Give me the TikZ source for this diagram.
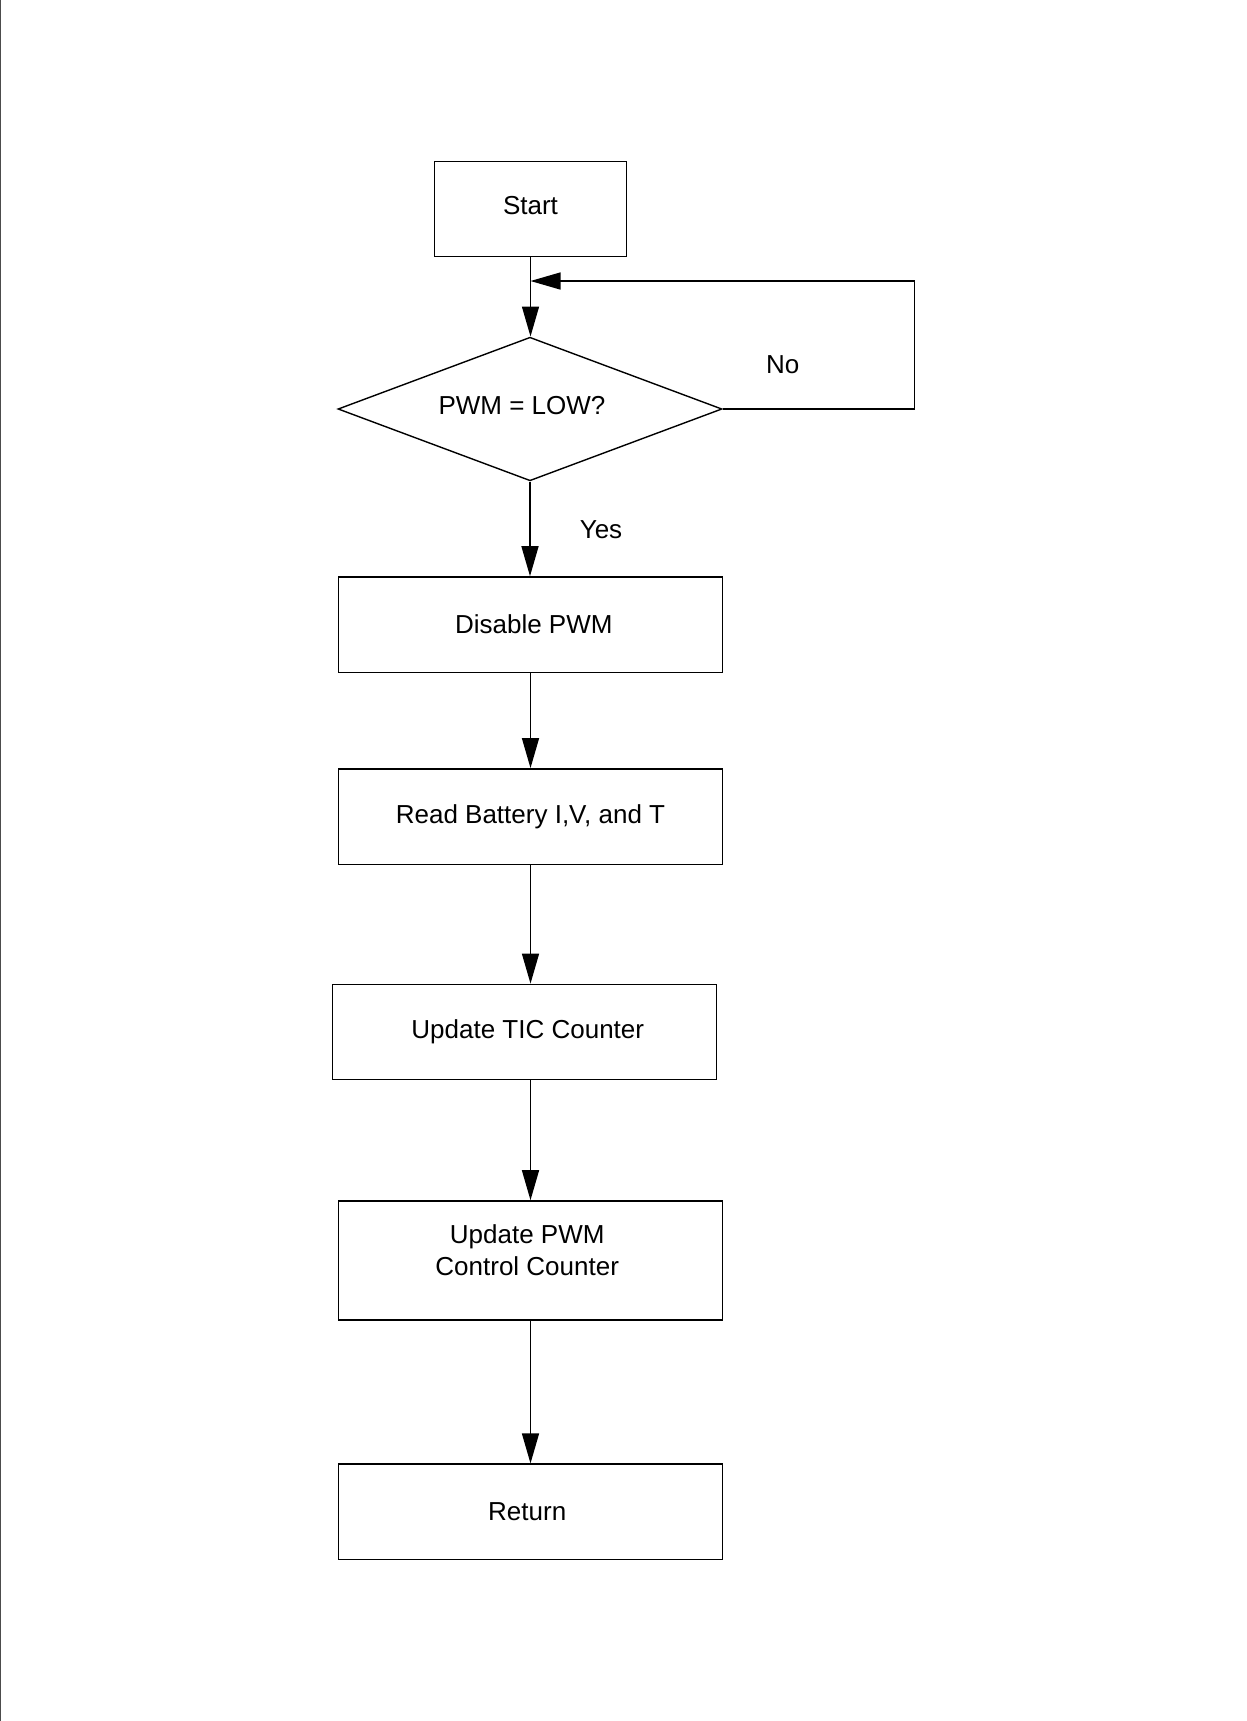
\documentclass[tikz,border=0pt]{standalone}
\usepackage{fontspec}
\setmainfont{Liberation Sans}
\usetikzlibrary{shapes.geometric,arrows.meta}
\begin{document}
\begin{tikzpicture}[x=0.5pt,y=-0.5pt,
  every node/.style={font=\fontsize{13pt}{16pt}\selectfont},
  procbox/.style={draw=black,line width=0.7pt,rectangle,inner sep=0pt,
    minimum width=192pt,minimum height=47.7pt},
  decbox/.style={draw=black,line width=0.7pt,diamond,inner sep=0pt,aspect=2.67,
    minimum width=192pt,minimum height=71.8pt},
  arr/.style={draw=black,line width=0.7pt,-{Triangle[length=15pt,width=8.5pt]}},
  lbl/.style={inner sep=0pt}]
\useasboundingbox (0,0) rectangle (1247,1721);
\draw[line width=0.7pt,draw=black!70] (0.7,0) -- (0.7,1721);
\node[procbox,minimum width=96pt,text depth=3.3pt] (start) at (530.5,208.9) {Start};
\node[decbox,text depth=4pt] (dia) at (530,409) {PWM = LOW?\hspace*{8pt}};
\node[procbox] (dis) at (530.5,624.6) {\hspace*{3.3pt}Disable PWM};
\node[procbox] (read) at (530.5,816.5) {Read Battery I,V, and T};
\node[procbox] (tic) at (524.5,1032) {\hspace*{3.3pt}Update TIC Counter};
\node[procbox,minimum height=59.6pt,align=center,text depth=10pt] (ctrl) at (530.5,1260.5) {Update PWM\hspace*{3.3pt}\\Control Counter\hspace*{3.3pt}};
\node[procbox] (ret) at (530.5,1511.8) {Return\hspace*{3.3pt}};
\node[lbl] (no) at (782.7,364.5) {No};
\node[lbl] (yes) at (601,529.7) {Yes};
\coordinate (lc) at (914.5,281);
\draw[arr] (start.south) -- (start.south |- dia.north);
\draw[arr] (dia.east) -| (lc) -- (start.south |- lc);
\draw[arr] (dia.south) -- (dia.south |- dis.north);
\draw[arr] (dis.south) -- (read.north);
\draw[arr] (read.south) -- (read.south |- tic.north);
\draw[arr] (read.south |- tic.south) -- (ctrl.north);
\draw[arr] (ctrl.south) -- (ret.north);
\end{tikzpicture}
\end{document}
